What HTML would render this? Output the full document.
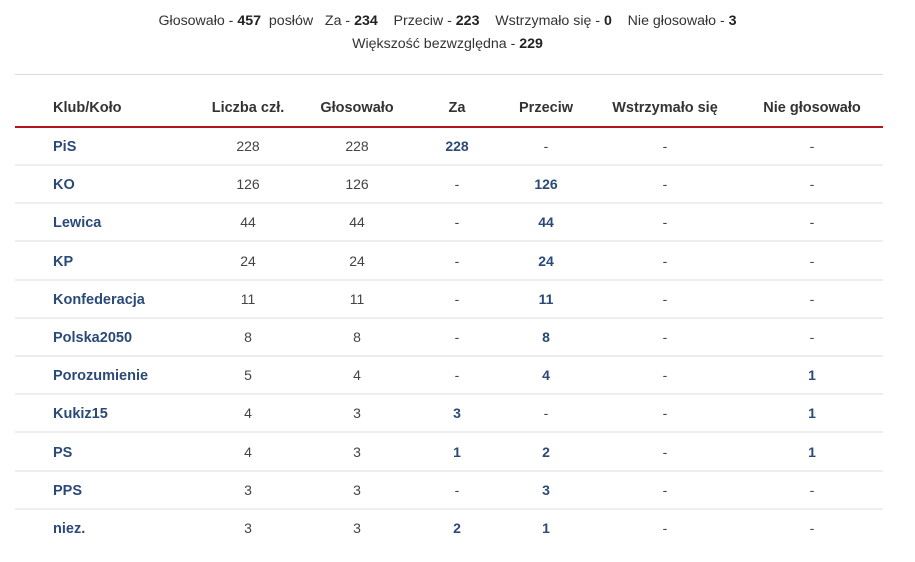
<!DOCTYPE html>
<html><head><meta charset="utf-8"><style>
*{margin:0;padding:0;box-sizing:border-box}
body{width:915px;height:562px;background:#fff;position:relative;overflow:hidden;font-family:"Liberation Sans",Arial,sans-serif;color:#333}
.sum{position:absolute;left:0;width:895px;text-align:center;font-size:14.2px;color:#333;white-space:pre}
.sum b{color:#222}
.hl{position:absolute;left:15px;width:868px}
.c{position:absolute;width:160px;margin-left:-80px;text-align:center;font-size:14px;white-space:nowrap;line-height:20px}
.h{font-weight:bold;color:#333;font-size:14.5px}
.n{color:#444}
.b{color:#2b4a78;font-weight:bold}
.name{position:absolute;left:53px;font-weight:bold;color:#2b4a78;font-size:14.5px;line-height:20px}
</style></head><body>
<div class="sum" style="top:11px;line-height:20px">Głosowało - <b>457</b>  posłów   Za - <b>234</b>    Przeciw - <b>223</b>    Wstrzymało się - <b>0</b>    Nie głosowało - <b>3</b></div>
<div class="sum" style="top:34px;line-height:20px">Większość bezwzględna - <b>229</b></div>
<div class="hl" style="top:74px;height:1px;background:#dcdcdc"></div>
<div class="name" style="top:98px;color:#333">Klub/Koło</div>
<div class="c h" style="top:98px;left:248px">Liczba czł.</div>
<div class="c h" style="top:98px;left:357px">Głosowało</div>
<div class="c h" style="top:98px;left:457px">Za</div>
<div class="c h" style="top:98px;left:546px">Przeciw</div>
<div class="c h" style="top:98px;left:665px">Wstrzymało się</div>
<div class="c h" style="top:98px;left:812px">Nie głosowało</div>
<div class="hl" style="top:126px;height:2px;background:#b3141c"></div>
<div id="rows"></div>
<script>
var d=[["PiS","228","228",["228",1],["-",0],["-",0],["-",0]],
["KO","126","126",["-",0],["126",1],["-",0],["-",0]],
["Lewica","44","44",["-",0],["44",1],["-",0],["-",0]],
["KP","24","24",["-",0],["24",1],["-",0],["-",0]],
["Konfederacja","11","11",["-",0],["11",1],["-",0],["-",0]],
["Polska2050","8","8",["-",0],["8",1],["-",0],["-",0]],
["Porozumienie","5","4",["-",0],["4",1],["-",0],["1",1]],
["Kukiz15","4","3",["3",1],["-",0],["-",0],["1",1]],
["PS","4","3",["1",1],["2",1],["-",0],["1",1]],
["PPS","3","3",["-",0],["3",1],["-",0],["-",0]],
["niez.","3","3",["2",1],["1",1],["-",0],["-",0]]];
var h="";var xs=[248,357,457,546,665,812];
for(var i=0;i<d.length;i++){var cy=146+i*38.2;var t=Math.round(cy-10);
h+='<div class="name" style="top:'+(t+1)+'px">'+d[i][0]+'</div>';
for(var j=1;j<=6;j++){var v=d[i][j];var txt,cl;if(typeof v==="string"){txt=v;cl="n"}else{txt=v[0];cl=v[1]?"b":"n"}
h+='<div class="c '+cl+'" style="top:'+t+'px;left:'+xs[j-1]+'px">'+txt+'</div>';}
if(i<d.length-1){h+='<div class="hl" style="top:'+Math.round(164+i*38.2)+'px;height:2px;background:#eeeeee"></div>';}}
document.getElementById("rows").innerHTML=h;
</script>
</body></html>
